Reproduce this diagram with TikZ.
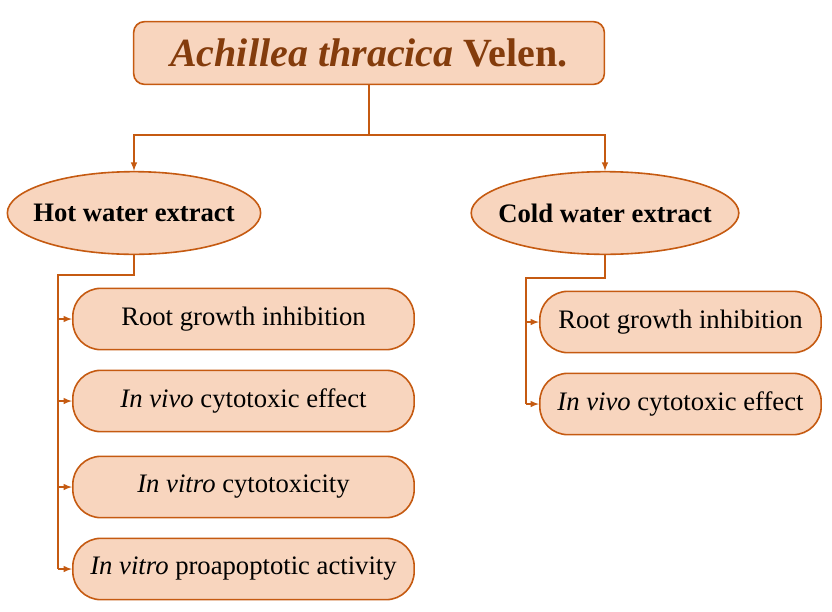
\documentclass[tikz,border=0pt]{standalone}
\usepackage{fontspec}
\setmainfont{Liberation Serif}
\usepackage{xcolor}
\usetikzlibrary{arrows}
\usetikzlibrary{shapes.geometric}
\definecolor{myorange}{RGB}{197,90,17}
\definecolor{mypeach}{RGB}{248,213,190}
\definecolor{mybrown}{RGB}{132,60,12}

\begin{document}
\begin{tikzpicture}[x=0.75pt,y=-0.75pt,
conn/.style={color=myorange,line width=1.2pt},
effect/.style={draw=myorange,fill=mypeach,line width=1.2pt,rounded corners=21pt,minimum height=46pt,inner sep=0pt,font=\fontsize{20}{24}\selectfont},
extract/.style={ellipse,draw=myorange,fill=mypeach,line width=1.2pt,minimum width=190pt,minimum height=62pt,inner xsep=-9pt,inner ysep=0pt,font=\bfseries\fontsize{20}{24}\selectfont}]
\useasboundingbox (0,0) rectangle (832,611);

\node[draw=myorange,fill=mypeach,line width=1.2pt,rounded corners=8pt,minimum width=353pt,minimum height=47pt,text=mybrown,font=\bfseries\fontsize{30}{36}\selectfont] (plant) at (369,53) {\textit{Achillea thracica} Velen.};

\node[extract] (hot) at (134,213) {Hot water extract};
\node[extract] (cold) at (605,213) {Cold water extract};

% hot water
\node[effect,minimum width=256pt] (hot1) at (243.5,319) {Root growth inhibition};
\node[effect,minimum width=256pt] (hot2) at (243.5,401) {\textit{In vivo} cytotoxic effect};
\node[effect,minimum width=256pt] (hot3) at (243.5,487) {\textit{In vitro} cytotoxicity};
\node[effect,minimum width=256pt] (hot4) at (243.5,569) {\textit{In vitro} proapoptotic activity};

% cold water
\node[effect,minimum width=211pt] (cold1) at (680.5,322) {Root growth inhibition};
\node[effect,minimum width=211pt] (cold2) at (680.5,404) {\textit{In vivo} cytotoxic effect};

\coordinate (split) at (369,135);
\draw[conn] (plant.south) -- (split);
\draw[conn,-latex] (split) -| (hot.north);
\draw[conn,-latex] (split) -| (cold.north);

\coordinate (hotbus) at (58,275);
\draw[conn] (hot.south) |- (hotbus) -- (hotbus |- hot4.west);
\foreach \n in {hot1,hot2,hot3,hot4}
  \draw[conn,-latex] (hotbus |- \n.west) -- (\n.west);

\coordinate (coldbus) at (526,278);
\draw[conn] (cold.south) |- (coldbus) -- (coldbus |- cold2.west);
\foreach \n in {cold1,cold2}
  \draw[conn,-latex] (coldbus |- \n.west) -- (\n.west);
\end{tikzpicture}
\end{document}
